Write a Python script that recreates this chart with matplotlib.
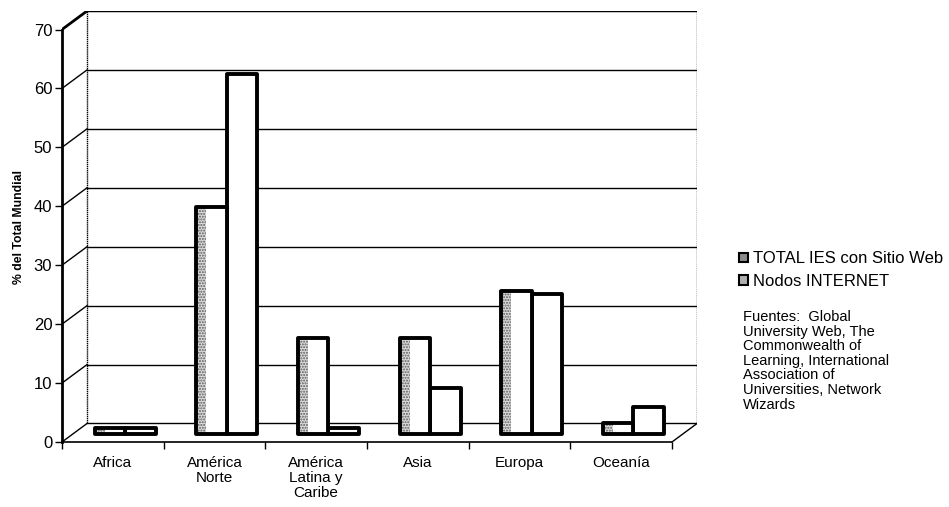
import numpy as np
import matplotlib
matplotlib.use("Agg")
import matplotlib.pyplot as plt
from matplotlib.patches import Patch

plt.rcParams['font.family'] = ['Liberation Sans', 'DejaVu Sans']

# Datos por region (% del total mundial)
regiones = ["Africa", "América\nNorte", "América\nLatina y\nCaribe", "Asia", "Europa", "Oceanía"]
ies_web = [1.0, 38.5, 16.3, 16.3, 24.4, 1.9]
nodos_internet = [1.0, 61.2, 1.0, 7.8, 23.8, 4.6]
series = ["TOTAL IES con Sitio Web", "Nodos INTERNET"]
fuentes = ("Fuentes:  Global\nUniversity Web, The\nCommonwealth of\n"
           "Learning, International\nAssociation of\nUniversities, Network\nWizards")

# profundidad del grafico 3D (en unidades de datos)
dx, dy = 0.246, 3.14
bx, by = 0.12, 1.3
ancho = 0.30
ymax = 70

fig = plt.figure(figsize=(9.49, 5.07), dpi=100)
ax = fig.add_axes([62 / 949, 65 / 507, 635 / 949, 431 / 507])
ax.set_xlim(-0.5, 5.5 + dx)
ax.set_ylim(0, ymax + dy)

# pared del fondo con lineas de division
niveles = np.arange(0, ymax + 1, 10)
x0, x1 = -0.5, len(regiones) - 0.5
for v in niveles:
    ax.plot([x0 + dx, x1 + dx], [v + dy, v + dy], color="black", lw=1, zorder=1)
    ax.plot([x0, x0 + dx], [v, v + dy], color="black", lw=1, zorder=1)
ax.plot([x0 + dx, x0 + dx], [dy, ymax + dy], color="black", lw=1, ls=(0, (1, 0.5)), zorder=1)
ax.plot([x1 + dx, x1 + dx], [dy, ymax + dy], color="black", lw=1, ls=(0, (1, 0.5)), zorder=1)
ax.plot([x1, x1 + dx], [0, dy], color="black", lw=1, zorder=1)
ax.plot([x0, x0 + dx], [ymax, ymax + dy], color="black", lw=2, zorder=2)
ax.plot([x0 + dx, x1 + dx], [ymax + dy, ymax + dy], color="black", lw=1.5, zorder=2)

# columnas
pos = np.arange(len(regiones))
ax.bar(pos + bx, nodos_internet, width=ancho, bottom=by, align="edge",
       facecolor="white", edgecolor="black", lw=2.8, joinstyle="round", zorder=3)
ax.bar(pos + bx - ancho, ies_web, width=ancho, bottom=by, align="edge",
       facecolor="white", edgecolor="none", zorder=4)
ax.bar(pos + bx - ancho, ies_web, width=0.1, bottom=by, align="edge",
       facecolor="#dcdcdc", edgecolor="#5a5a5a", lw=0, hatch="......", zorder=5)
ax.bar(pos + bx - ancho, ies_web, width=ancho, bottom=by, align="edge",
       fill=False, edgecolor="black", lw=2.8, joinstyle="round", zorder=6)

# ejes frontales
for s in ["top", "right"]:
    ax.spines[s].set_visible(False)
ax.spines["left"].set_bounds(0, ymax)
ax.spines["left"].set_linewidth(2)
ax.spines["bottom"].set_bounds(x0, x1)
ax.spines["bottom"].set_linewidth(1.2)
ax.set_yticks(niveles)
ax.tick_params(axis="y", direction="out", length=5, width=1, labelsize=12, pad=2)
ax.set_xticks(np.arange(x0, x1 + 0.01, 1))
ax.set_xticklabels([])
ax.set_xticks(pos, regiones, minor=True, linespacing=1.1)
ax.tick_params(axis="x", which="major", direction="out", length=5, width=1)
ax.tick_params(axis="x", which="minor", length=0, labelsize=11, pad=10)
ax.set_ylabel("% del Total Mundial", fontsize=8.8, fontweight="bold", labelpad=6)

handles = [Patch(facecolor="#8c8c8c", edgecolor="black", lw=1.5),
           Patch(facecolor="#b0b0b0", edgecolor="black", lw=1.5)]
fig.legend(handles, series, loc="upper left", bbox_to_anchor=(0.779, 0.504),
           frameon=False, fontsize=12, handlelength=0.5, handleheight=0.5,
           handletextpad=0.3, labelspacing=0.45, borderpad=0, borderaxespad=0)
fig.text(0.783, 0.388, fuentes, fontsize=10.5, va="top", ha="left", linespacing=1.05)

fig.savefig("out.png", dpi=100)
